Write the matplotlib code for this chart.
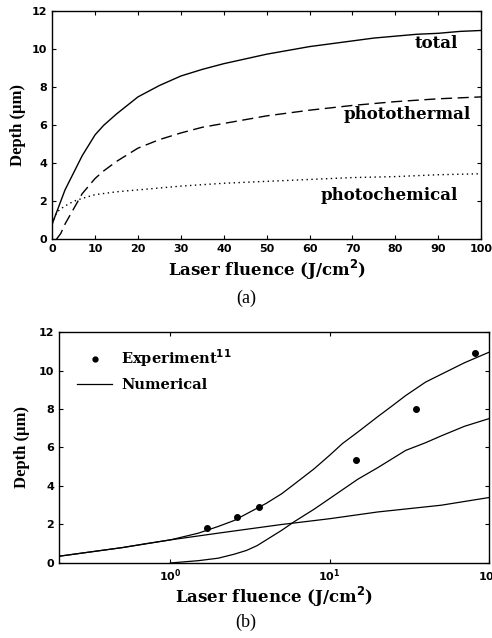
import numpy as np
import matplotlib
matplotlib.use('Agg')
import matplotlib.pyplot as plt

# panel (a): linear fluence
fa = [0, 1, 2, 3, 5, 7, 10, 12, 15, 20, 25, 30, 35, 40, 45, 50, 55, 60, 65, 70, 75, 80, 85, 90, 95, 100]
total_a = [0.8, 1.4, 2.0, 2.6, 3.5, 4.4, 5.5, 6.0, 6.6, 7.5, 8.1, 8.6, 8.95, 9.25, 9.5, 9.75,
           9.95, 10.15, 10.3, 10.45, 10.6, 10.7, 10.8, 10.85, 10.95, 11.0]
fa_th = [1, 2, 3, 4, 5, 7, 10, 12, 15, 20, 25, 30, 35, 40, 45, 50, 60, 70, 80, 90, 100]
thermal_a = [0.0, 0.3, 0.8, 1.2, 1.6, 2.4, 3.2, 3.6, 4.1, 4.8, 5.25, 5.6, 5.9, 6.1, 6.3, 6.5,
             6.8, 7.05, 7.25, 7.4, 7.5]
fa_ch = [0, 1, 2, 3, 5, 7, 10, 15, 20, 30, 40, 50, 60, 70, 80, 90, 100]
chem_a = [0.8, 1.4, 1.6, 1.75, 2.0, 2.15, 2.35, 2.5, 2.6, 2.8, 2.95, 3.05, 3.15, 3.25, 3.3, 3.4, 3.45]

# panel (b): log fluence
fb = [0.2, 0.3, 0.5, 0.7, 1, 1.5, 2, 2.5, 3, 4, 5, 6, 8, 10, 12, 15, 20, 25, 30, 40, 50, 70, 100]
total_b = [0.35, 0.55, 0.8, 1.0, 1.2, 1.55, 1.9, 2.2, 2.55, 3.1, 3.6, 4.1, 4.9, 5.6, 6.2, 6.8,
           7.6, 8.2, 8.7, 9.4, 9.8, 10.4, 10.95]
fb_th = [1, 1.5, 2, 2.5, 3, 3.5, 4, 5, 6, 8, 10, 15, 20, 30, 40, 50, 70, 100]
thermal_b = [0.0, 0.12, 0.25, 0.45, 0.65, 0.9, 1.2, 1.7, 2.15, 2.8, 3.35, 4.35, 4.95, 5.85, 6.25,
             6.6, 7.1, 7.5]
fb_ch = [0.2, 0.5, 1, 2, 3, 5, 10, 20, 50, 100]
chem_b = [0.35, 0.8, 1.2, 1.55, 1.75, 2.0, 2.3, 2.65, 3.0, 3.4]

exp_x = [1.7, 2.6, 3.6, 14.7, 34.6, 81.6]
exp_y = [1.8, 2.4, 2.92, 5.35, 8.0, 10.9]

heavy = {'family': 'DejaVu Serif', 'weight': 'bold'}
times = {'family': 'Liberation Serif', 'weight': 'bold'}

fig = plt.figure(figsize=(4.92, 6.38), dpi=100)

ax1 = fig.add_axes([0.106, 0.625, 0.872, 0.357])
ax1.plot(fa, total_a, color='k', lw=1.0, ls='-')
ax1.plot(fa_th, thermal_a, color='k', lw=1.0, ls=(0, (8, 4)))
ax1.plot(fa_ch, chem_a, color='k', lw=1.0, ls=(0, (1, 2.5)))
ax1.set_xlim(0, 100)
ax1.set_ylim(0, 12)
ax1.set_xticks(range(0, 101, 10))
ax1.set_yticks(range(0, 13, 2))
ax1.text(94.6, 10.33, 'total', fontsize=12, ha='right', va='center', **heavy)
ax1.text(97.7, 6.58, 'photothermal', fontsize=12, ha='right', va='center', **heavy)
ax1.text(94.6, 2.3, 'photochemical', fontsize=12, ha='right', va='center', **heavy)
ax1.set_xlabel('Laser fluence (J/cm$^\\mathbf{2}$)', fontsize=12, labelpad=3, **heavy)
ax1.set_ylabel('Depth (\u03bcm)', fontsize=12, labelpad=4, **times)
fig.text(0.5, 0.525, '(a)', ha='center', fontsize=13, family='Liberation Serif')

ax2 = fig.add_axes([0.12, 0.1176, 0.874, 0.362])
ax2.plot(fb, total_b, color='k', lw=0.9)
ax2.plot(fb_th, thermal_b, color='k', lw=0.9)
ax2.plot(fb_ch, chem_b, color='k', lw=0.9)
ax2.plot(exp_x, exp_y, 'o', color='k', ms=4, ls='none')
ax2.set_xscale('log')
ax2.set_xlim(0.2, 100)
ax2.set_ylim(0, 12)
ax2.set_yticks(range(0, 13, 2))
ax2.plot([], [], 'o', color='k', ms=3.5, label='Experiment$^{\\mathbf{11}}$')
ax2.plot([], [], color='k', lw=0.9, label='Numerical')
h, l = ax2.get_legend_handles_labels()
ax2.legend(h[-2:], l[-2:], loc='upper left', frameon=False,
           prop={'family': 'DejaVu Serif', 'weight': 'bold', 'size': 10.5},
           handlelength=2.4, handletextpad=0.6, bbox_to_anchor=(0.012, 0.99), labelspacing=0.6)
ax2.set_xlabel('Laser fluence (J/cm$^\\mathbf{2}$)', fontsize=12, labelpad=0, **heavy)
ax2.set_ylabel('Depth (\u03bcm)', fontsize=12, labelpad=6, **times)
fig.text(0.5, 0.017, '(b)', ha='center', fontsize=13, family='Liberation Serif')

for ax in (ax1, ax2):
    ax.tick_params(direction='in', top=True, right=True, labelsize=8, width=0.8, length=3)
    ax.tick_params(which='minor', direction='in', top=True, right=True, length=0)
    for lab in ax.get_xticklabels() + ax.get_yticklabels():
        lab.set_fontweight('bold')
    for s in ax.spines.values():
        s.set_linewidth(1.0)

fig.savefig('out.png', dpi=100)
